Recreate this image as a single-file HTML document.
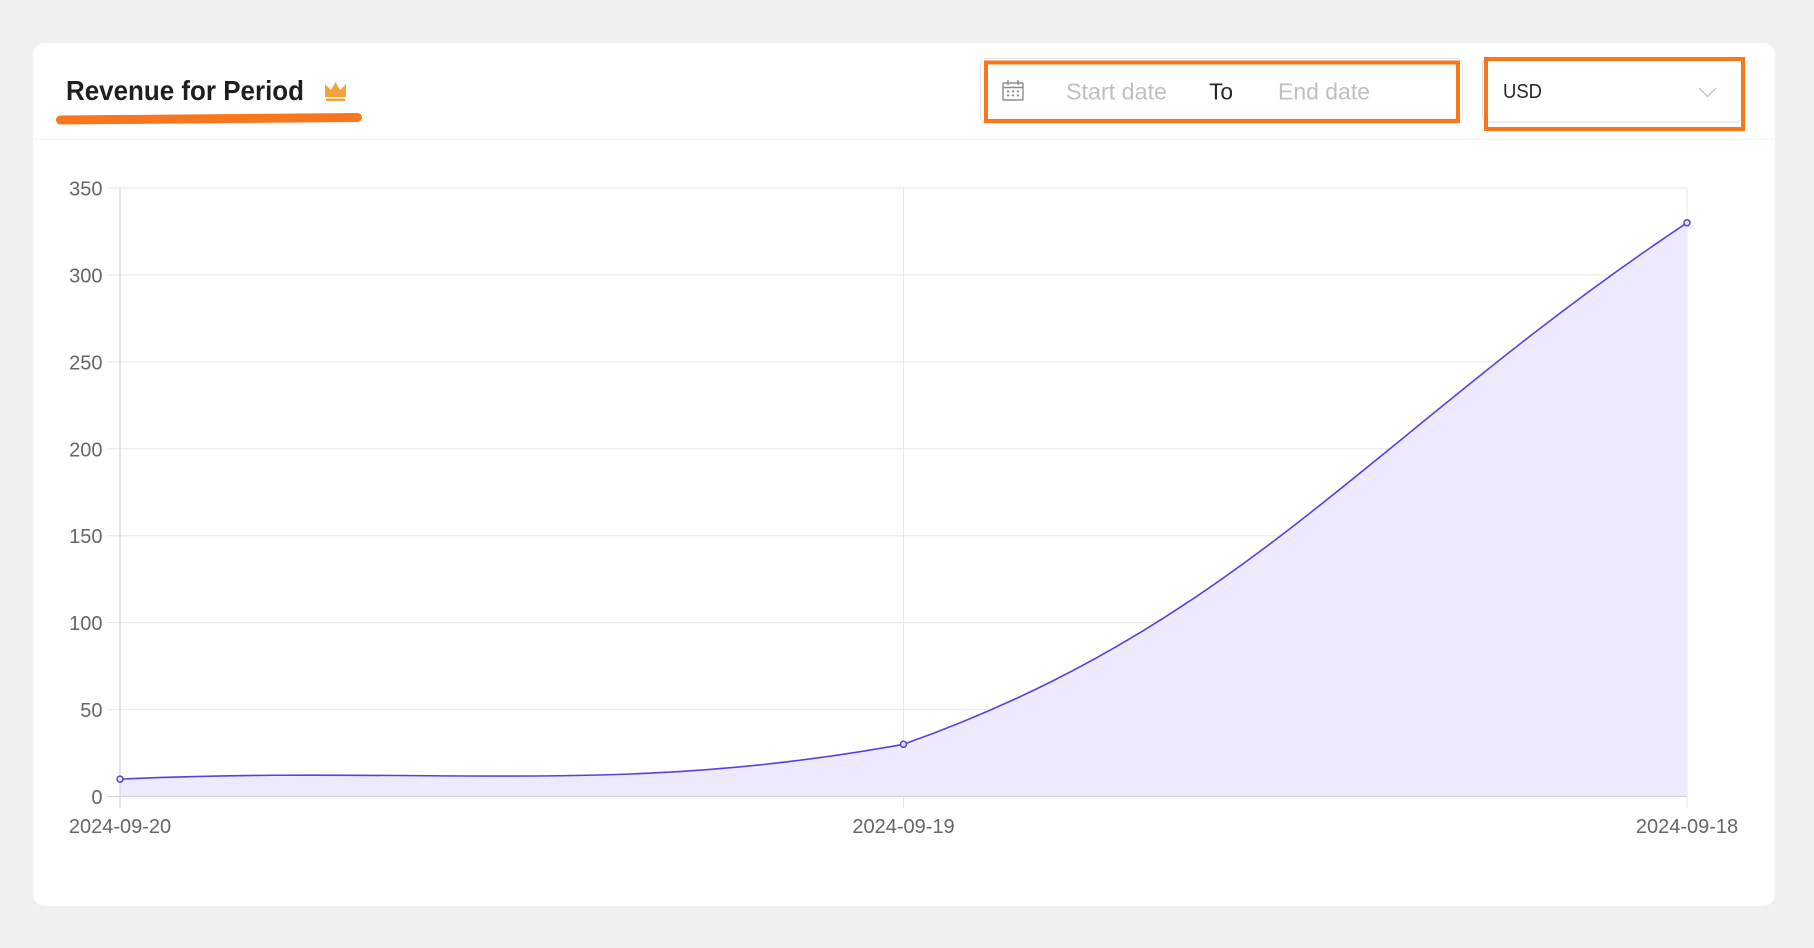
<!DOCTYPE html>
<html>
<head>
<meta charset="utf-8">
<style>
  html, body { margin:0; padding:0; }
  body { width:1814px; height:948px; background:#f0f0f0; overflow:hidden; font-family:"Liberation Sans", Arial, sans-serif; }
  svg { display:block; }
</style>
</head>
<body>
<svg width="1814" height="948" viewBox="0 0 1814 948" xmlns="http://www.w3.org/2000/svg" font-family="Liberation Sans, Arial, sans-serif">
  <!-- background -->
  <rect x="0" y="0" width="1814" height="948" fill="#f0f0f0"/>
  <!-- card -->
  <rect x="33" y="43" width="1742" height="863" rx="12" ry="12" fill="#ffffff"/>
  <!-- header separator -->
  <line x1="33" y1="139.5" x2="1775" y2="139.5" stroke="#efefef" stroke-width="1"/>

  <!-- title -->
  <text x="66" y="100" font-size="28" font-weight="bold" fill="#1f1f1f" textLength="238" lengthAdjust="spacingAndGlyphs">Revenue for Period</text>
  <!-- crown -->
  <path d="M325 97 L325 84 L331 90 L335.5 82 L340 90 L346 84 L346 97 Z" fill="#f2a33a"/>
  <rect x="326" y="98.5" width="19" height="2.5" fill="#f2a33a"/>
  <!-- underline -->
  <path d="M60.5 120 Q 200 118.6 357.5 117.5" stroke="#f7761e" stroke-width="9" stroke-linecap="round" fill="none"/>

  <!-- date picker -->
  <rect x="980.5" y="58.5" width="482" height="65" rx="6" ry="6" fill="#ffffff" stroke="#e6e6e6" stroke-width="1"/>
  <rect x="986" y="62.5" width="472" height="58.5" fill="none" stroke="#f7761e" stroke-width="4"/>
  <!-- calendar icon -->
  <g stroke="#8c8c8c" stroke-width="1.4" fill="none">
    <rect x="1003" y="83" width="20" height="17" rx="1"/>
    <line x1="1003" y1="87.5" x2="1023" y2="87.5"/>
    <line x1="1008" y1="80" x2="1008" y2="85"/>
    <line x1="1018" y1="80" x2="1018" y2="85"/>
  </g>
  <g fill="#8c8c8c">
    <rect x="1007" y="90.5" width="2.2" height="1.8"/>
    <rect x="1011.9" y="90.5" width="2.2" height="1.8"/>
    <rect x="1016.8" y="90.5" width="2.2" height="1.8"/>
    <rect x="1007" y="94.5" width="2.2" height="1.8"/>
    <rect x="1011.9" y="94.5" width="2.2" height="1.8"/>
    <rect x="1016.8" y="94.5" width="2.2" height="1.8"/>
  </g>
  <text x="1066" y="99.5" font-size="23" fill="#bfbfbf" textLength="101" lengthAdjust="spacingAndGlyphs">Start date</text>
  <text x="1209" y="99.5" font-size="23" fill="#262626" textLength="24" lengthAdjust="spacingAndGlyphs">To</text>
  <text x="1278" y="99.5" font-size="23" fill="#bfbfbf" textLength="92" lengthAdjust="spacingAndGlyphs">End date</text>

  <!-- currency select -->
  <rect x="1482.5" y="58.5" width="260" height="63.5" rx="6" ry="6" fill="#ffffff" stroke="#dcdcdc" stroke-width="1"/>
  <rect x="1486" y="59" width="257" height="70" fill="none" stroke="#f7761e" stroke-width="4"/>
  <text x="1503" y="98" font-size="20" fill="#262626" textLength="39" lengthAdjust="spacingAndGlyphs">USD</text>
  <path d="M1699 88 L1707.5 96.5 L1716 88" stroke="#bfbfbf" stroke-width="1.3" fill="none"/>

  <!-- chart grid -->
  <g stroke="#e6e6e6" stroke-width="1">
    <line x1="107" y1="188" x2="1687" y2="188"/>
    <line x1="107" y1="274.9" x2="1687" y2="274.9"/>
    <line x1="107" y1="361.9" x2="1687" y2="361.9"/>
    <line x1="107" y1="448.8" x2="1687" y2="448.8"/>
    <line x1="107" y1="535.7" x2="1687" y2="535.7"/>
    <line x1="107" y1="622.6" x2="1687" y2="622.6"/>
    <line x1="107" y1="709.6" x2="1687" y2="709.6"/>
    <line x1="903.5" y1="188" x2="903.5" y2="808"/>
    <line x1="1687" y1="188" x2="1687" y2="808"/>
  </g>

  <!-- area fill -->
  <path d="M120 779.1 C433.4 765.2 618.6 796.5 903.5 744.3 C1245.4 622.9 1373.6 431.4 1687 222.8 L1687 796.5 L120 796.5 Z" fill="#eee9fd"/>

  <!-- axes -->
  <line x1="107" y1="796.5" x2="1687" y2="796.5" stroke="#d6d6d6" stroke-width="1.3"/>
  <line x1="120" y1="188" x2="120" y2="808" stroke="#d6d6d6" stroke-width="1.3"/>

  <!-- line -->
  <path d="M120 779.1 C433.4 765.2 618.6 796.5 903.5 744.3 C1245.4 622.9 1373.6 431.4 1687 222.8" fill="none" stroke="#5b40d8" stroke-width="1.6"/>
  <g fill="#e6e0fb" stroke="#5b40d8" stroke-width="1.5">
    <circle cx="120" cy="779.1" r="3"/>
    <circle cx="903.5" cy="744.3" r="3"/>
    <circle cx="1687" cy="222.8" r="3"/>
  </g>

  <!-- y labels -->
  <g font-size="20" fill="#666666" text-anchor="end">
    <text x="102.5" y="195.5">350</text>
    <text x="102.5" y="282.4">300</text>
    <text x="102.5" y="369.4">250</text>
    <text x="102.5" y="456.3">200</text>
    <text x="102.5" y="543.2">150</text>
    <text x="102.5" y="630.1">100</text>
    <text x="102.5" y="717.1">50</text>
    <text x="102.5" y="804">0</text>
  </g>
  <!-- x labels -->
  <g font-size="20" fill="#666666" text-anchor="middle">
    <text x="120" y="833">2024-09-20</text>
    <text x="903.5" y="833">2024-09-19</text>
    <text x="1687" y="833">2024-09-18</text>
  </g>
</svg>
</body>
</html>
